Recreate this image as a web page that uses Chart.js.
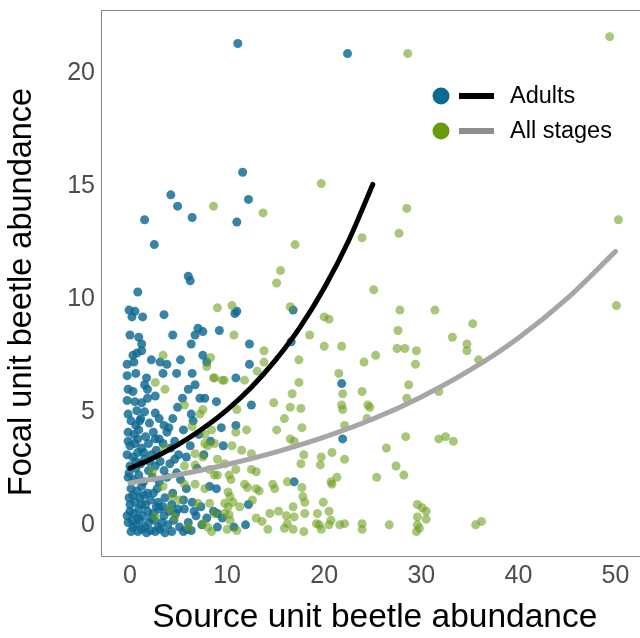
<!DOCTYPE html>
<html>
<head>
<meta charset="utf-8">
<script src="https://cdn.jsdelivr.net/npm/chart.js@4.4.1/dist/chart.umd.min.js"></script>
<style>
  html, body { margin: 0; padding: 0; background: #fff; overflow: hidden; }
  /* the panel runs past the right edge of the picture, so the canvas is a bit wider than the window */
  #wrap { width: 653px; height: 638px; position: relative; }
</style>
</head>
<body>
<div id="wrap"><canvas id="chart"></canvas></div>
<script>
// tick values
const xTicks = [0, 10, 20, 30, 40, 50];
const yTicks = [0, 5, 10, 15, 20];

// fitted curves
const adultCurveX = [0, 2.5, 5, 7.5, 10, 12.5, 15, 17.5, 20, 22.5, 25];
const adultCurveY = [2.40, 2.88, 3.46, 4.16, 4.99, 5.99, 7.20, 8.64, 10.38, 12.46, 14.96];
const allCurveX = [0, 5, 10, 15, 20, 25, 30, 35, 40, 45, 50];
const allCurveY = [1.75, 2.12, 2.57, 3.12, 3.78, 4.58, 5.56, 6.74, 8.17, 9.91, 12.0];

// adults points [source, focal]
const adults = [
	[11.1,21.2],[22.4,20.75],[11.6,15.5],[4.2,14.5],[4.9,14.0],[12.2,14.3],[6.4,13.5],[11.0,13.3],
	[1.5,13.4],[2.5,12.3],[6.0,10.9],[6.2,10.7],[0.8,10.2],
	[-0.1,9.4],[0.2,9.1],[0.5,9.35],[1.3,9.1],[3.5,9.2],[10.8,9.25],[11.0,9.35],
	[0,8.3],[0.9,8.2],[1.2,7.9],[4.4,8.3],[7.0,8.6],[7.5,8.45],[6.7,8.3],[9.2,8.5],[6.3,7.9],
	[12.3,7.9],[16.6,8.0],[16.8,9.4],
	[0.7,7.5],[0.3,7.4],[1.2,7.6],[0.4,7.1],[-0.3,7.0],[2.2,7.2],[3.1,7.1],[3.8,7.0],[5.2,7.2],
	[7.5,7.4],[7.9,7.1],[12.3,7.0],
	[-0.3,6.5],[0.6,6.6],[1.7,6.4],[3.4,6.6],[4.8,6.6],[6.4,6.6],[1.5,6.1],[10.9,6.4],[21.8,6.15],
	[-0.2,5.9],[0.3,5.8],[1.8,5.9],[6.0,5.9],[6.7,6.1],
	[-0.3,5.4],[0.5,5.35],[1.2,5.3],[1.8,5.5],[2.6,5.6],[5.4,5.5],[7.2,5.5],[7.7,5.5],[8.9,5.35],[12.5,5.2],
	[-0.2,4.8],[0.7,4.95],[1.5,4.9],[2.6,4.85],[4.9,5.1],[6.3,4.8],
	[0.1,4.5],[0.6,4.3],[1.1,4.6],[2.0,4.4],[3.5,4.3],[4.4,4.6],[6.5,4.5],[1.0,4.5],[3.0,4.6],[4.0,4.2],
	[-0.2,4.0],[0.4,3.9],[0.9,4.1],[1.6,3.8],[2.4,4.0],[3.0,3.7],[3.8,4.0],[4.6,3.6],[5.5,4.1],[7.1,3.9],
	[0.0,3.4],[0.5,3.5],[1.2,3.3],[1.9,3.5],[2.7,3.2],[3.4,3.5],[4.2,3.3],[5.0,3.0],[6.2,3.4],[8.3,3.6],[9.6,3.4],
	[-0.2,3.6],[0.8,3.7],[2.6,3.7],[1.4,3.1],[0.6,2.7],[2.0,2.7],
	[-0.3,3.0],[0.3,2.9],[0.8,3.1],[1.5,2.8],[2.2,3.0],[3.1,2.7],[4.6,2.8],[5.8,2.9],[7.6,3.0],
	[0.0,2.5],[0.6,2.4],[1.1,2.6],[1.9,2.3],[2.6,2.5],[3.5,2.3],[4.1,2.6],[6.9,2.4],[-0.1,2.2],
	[-0.2,2.0],[0.3,1.9],[0.9,2.1],[1.4,1.8],[2.3,2.0],[3.0,1.8],[5.2,1.9],[3.8,2.0],[4.8,2.2],
	[0.1,1.5],[0.7,1.4],[1.2,1.6],[1.8,1.3],[2.8,1.5],[4.4,1.3],[8.2,1.6],[5.8,1.5],
	[0.3,1.2],[1.4,1.2],[2.4,1.3],[0.0,0.8],[1.2,0.8],[2.7,0.7],[3.4,0.7],
	[-0.1,1.1],[0.5,0.9],[1.0,1.1],[1.6,0.8],[2.1,1.0],[2.9,0.9],[3.6,1.1],[4.3,0.8],[5.5,1.0],[6.4,0.9],[7.3,0.7],
	[0.0,0.5],[0.4,0.4],[0.9,0.6],[1.3,0.3],[1.8,0.5],[2.4,0.4],[3.0,0.6],[3.5,0.3],[4.0,0.5],[4.7,0.4],
	[5.6,0.6],[6.8,0.3],[8.6,0.5],[6.6,0.5],[4.9,0.6],[0.8,0.2],[2.2,0.2],[-0.3,0.3],[7.9,0.2],
	[-0.2,0.0],[0.2,0.1],[0.6,-0.1],[1.0,0.1],[1.5,-0.2],[1.9,0.0],[2.5,0.1],[2.9,-0.2],[3.3,0.0],
	[3.9,-0.1],[4.5,0.1],[5.1,-0.2],[6.0,0.0],[7.4,-0.1],[9.5,0.2],[10.7,-0.2],
	[0.3,-0.2],[1.2,-0.3],[2.1,-0.35],[3.1,-0.3],[5.9,-0.3],
	[0.1,-0.4],[0.8,-0.4],[1.7,-0.45],[2.6,-0.4],[3.6,-0.45],[4.3,-0.4],[5.5,-0.4],[6.3,-0.35],
	[9.4,4.2],[10.9,4.3],[8.9,1.5],[9.0,0.4],[9.0,-0.2],[12.2,0.8],[16.9,1.8],[11.9,-0.1],[21.9,3.7]
];

// all stages points [source, focal]
const allStages = [
	[49.4,21.5],[28.6,20.75],[19.7,15.0],[13.7,13.7],[8.6,14.0],[28.5,13.9],[17.0,12.3],[50.3,13.4],
	[23.9,12.6],[27.7,12.8],[15.5,11.15],[15.1,10.6],[50.1,9.6],[25.1,10.3],[27.8,9.4],[31.4,9.4],
	[27.6,8.5],[35.3,8.8],[21.8,7.8],[25.3,7.4],[33.2,8.2],[34.7,7.9],[34.7,7.6],[27.5,7.7],[28.3,7.7],
	[29.5,7.6],[20.5,9.0],[35.9,7.2],
	[9.0,9.5],[10.5,9.6],[16.5,9.55],[20.0,9.1],[10.7,8.3],[18.5,8.3],[20.0,7.8],[13.8,7.6],[13.8,7.1],
	[13.1,6.7],[17.4,7.2],[8.7,6.4],[9.7,6.3],[11.8,6.3],[17.4,6.2],[16.7,5.7],[14.8,5.3],[16.5,5.1],
	[17.6,5.05],[11.0,5.0],[15.9,4.6],
	[3.4,7.4],[2.6,6.2],[3.6,5.9],[7.9,6.9],[8.3,7.3],[8.6,6.4],[9.5,6.3],[5.6,5.2],[7.5,5.0],[7.2,4.8],
	[21.5,6.6],[24.1,7.1],[29.4,7.0],[28.7,6.1],[28.5,5.5],[23.9,5.8],[21.9,5.7],[21.8,5.2],[21.9,5.0],
	[24.5,5.2],[24.7,5.1],[24.4,4.6],[22.1,4.3],[31.8,5.8],[28.4,3.8],[31.8,3.7],[32.5,3.8],[33.3,3.6],
	[20.8,3.1],[22.1,2.8],[26.4,3.3],[27.4,2.5],[28.2,2.1],[25.4,2.0],[21.3,2.0],[20.8,1.7],
	[29.6,0.8],[30.1,0.65],[30.5,0.5],[29.6,0.25],[30.5,0.15],[29.6,-0.1],[29.8,-0.25],[29.5,-0.4],
	[20.5,0.5],[21.6,-0.1],[22.1,-0.05],[23.9,-0.05],[23.9,-0.3],[26.7,-0.1],[35.6,-0.1],[36.2,0.05],[20.5,-0.1],
	[10.9,4.0],[12.0,4.1],[17.7,4.2],[15.1,4.1],[16.5,3.7],[16.9,3.6],[10.5,3.4],[11.5,3.2],[12.5,3.05],
	[17.9,3.0],[19.7,2.9],[9.0,2.8],[9.75,2.6],[10.9,2.35],[12.5,2.35],[13.0,2.25],[10.2,2.1],[17.6,2.6],
	[19.6,2.55],[8.7,2.1],[11.8,1.7],[12.1,1.55],[13.0,1.5],[13.3,1.4],[14.7,1.7],[14.9,1.5],[16.2,1.8],
	[17.7,1.55],[20.7,1.8],[10.1,1.35],[10.3,1.15],[17.8,1.15],[18.0,0.9],[9.75,0.85],[10.1,0.7],[12.6,1.0],
	[16.8,0.7],[19.9,0.9],[9.75,0.4],[10.2,0.35],[14.4,0.4],[15.3,0.5],[16.1,0.3],[16.9,0.25],[18.0,0.4],
	[19.3,0.4],[13.0,0.2],[13.6,0.05],[16.2,-0.05],[19.2,-0.05],[19.5,-0.1],[10.0,-0.3],[11.0,-0.35],
	[14.2,-0.3],[15.9,-0.25],[16.8,-0.3],[17.9,-0.4],[19.7,-0.3],[20.7,0.1],
	[10.4,1.9],[10.6,0.9],[10.3,0.1],[11.3,0.7],
	[6.4,4.25],[7.7,3.9],[8.4,4.1],[8.0,3.4],[8.7,3.5],[7.7,3.5],[3.6,3.3],[6.7,3.05],[7.5,2.9],[5.6,2.5],
	[6.7,2.55],[8.2,2.35],[9.0,2.1],[2.3,2.25],[3.4,1.6],[5.6,1.7],[6.7,1.7],[7.7,1.5],[4.4,1.15],[5.1,1.0],
	[7.0,0.85],[8.2,0.85],[8.7,0.4],[4.1,0.6],[4.6,0.25],[7.5,-0.05],[8.0,-0.2],[8.4,-0.4],[6.0,-0.2],[2.6,0.25]
];

const toXY = arr => arr.map(p => ({x: p[0], y: p[1]}));
const zipXY = (xs, ys) => xs.map((x, i) => ({x: x, y: ys[i]}));

const fontFamily = '"Liberation Sans", Arial, sans-serif';

// box on left, top, bottom (right side runs off the picture)
const frame = {
	id: 'frame',
	beforeDatasetsDraw(chart) {
		const {ctx, chartArea: a} = chart;
		ctx.save();
		ctx.strokeStyle = '#858585';
		ctx.lineWidth = 1;
		ctx.beginPath();
		ctx.moveTo(a.right, Math.round(a.top) + 0.5);
		ctx.lineTo(Math.round(a.left) + 0.5, Math.round(a.top) + 0.5);
		ctx.lineTo(Math.round(a.left) + 0.5, Math.round(a.bottom) + 0.5);
		ctx.lineTo(a.right, Math.round(a.bottom) + 0.5);
		ctx.stroke();
		ctx.restore();
	}
};

// y title sits a bit below the panel centre in the original
const yTitle = {
	id: 'yTitle',
	afterDraw(chart) {
		const ctx = chart.ctx;
		ctx.save();
		ctx.translate(22, 292);
		ctx.rotate(-Math.PI / 2);
		ctx.font = '32.5px ' + fontFamily;
		ctx.fillStyle = '#000';
		ctx.textAlign = 'center';
		ctx.textBaseline = 'middle';
		ctx.fillText('Focal unit beetle abundance', 0, 0);
		ctx.restore();
	}
};

// legend drawn inside the plot
const keyBox = {
	id: 'keyBox',
	afterDatasetsDraw(chart) {
		const ctx = chart.ctx;
		const rows = [
			{dot: '#0b6a8e', line: '#000000', text: 'Adults', y: 96},
			{dot: '#689a0a', line: '#8e8e8e', text: 'All stages', y: 131}
		];
		ctx.save();
		ctx.font = '23.5px ' + fontFamily;
		ctx.textBaseline = 'middle';
		ctx.textAlign = 'left';
		rows.forEach(r => {
			ctx.fillStyle = r.dot;
			ctx.beginPath();
			ctx.arc(441, r.y, 8.5, 0, Math.PI * 2);
			ctx.fill();
			ctx.strokeStyle = r.line;
			ctx.lineWidth = 6;
			ctx.beginPath();
			ctx.moveTo(459, r.y);
			ctx.lineTo(494, r.y);
			ctx.stroke();
			ctx.fillStyle = '#000';
			ctx.fillText(r.text, 510, r.y + 1);
		});
		ctx.restore();
	}
};

const tickFont = {family: fontFamily, size: 25};

new Chart(document.getElementById('chart'), {
	type: 'scatter',
	data: {
		datasets: [
			{
				label: 'Adults fit',
				type: 'line',
				data: zipXY(adultCurveX, adultCurveY),
				borderColor: '#000000',
				borderWidth: 5,
				pointRadius: 0,
				fill: false,
				cubicInterpolationMode: 'monotone',
				borderCapStyle: 'round',
				order: 0,
			},
			{
				label: 'All stages fit',
				type: 'line',
				data: zipXY(allCurveX, allCurveY),
				borderColor: '#a6a6a6',
				borderWidth: 5,
				pointRadius: 0,
				fill: false,
				cubicInterpolationMode: 'monotone',
				borderCapStyle: 'round',
				order: 1,
			},
			{
				label: 'All stages',
				data: toXY(allStages),
				backgroundColor: 'rgba(106,158,26,0.58)',
				borderWidth: 0,
				pointRadius: 4.5,
				order: 2,
			},
			{
				label: 'Adults',
				data: toXY(adults),
				backgroundColor: 'rgba(14,105,145,0.82)',
				borderWidth: 0,
				pointRadius: 4.5,
				order: 3,
			},
		],
	},
	options: {
		responsive: true,
		maintainAspectRatio: false,
		animation: false,
		layout: {padding: {top: 10, right: 0, bottom: 0, left: 0}},
		plugins: {
			legend: {display: false},
			tooltip: {enabled: false},
		},
		scales: {
			x: {
				type: 'linear',
				min: -2.99,
				max: 53.4,
				grid: {display: false, drawTicks: false},
				border: {display: false},
				ticks: {
					stepSize: 10,
					includeBounds: false,
					padding: 5,
					color: '#4d4d4d',
					font: tickFont,
				},
				afterBuildTicks: s => { s.ticks = xTicks.map(v => ({value: v})); },
				afterFit: s => {
					s.height = 82;
					s.paddingLeft = 0;
					s.paddingRight = 0;
				},
				title: {
					display: true,
					text: 'Source unit beetle abundance',
					color: '#000',
					font: {family: fontFamily, size: 33.5},
					padding: {top: 0, bottom: 0},
				},
			},
			y: {
				type: 'linear',
				min: -1.48,
				max: 22.68,
				grid: {display: false, drawTicks: false},
				border: {display: false},
				ticks: {
					stepSize: 5,
					includeBounds: false,
					padding: 6,
					labelOffset: 2.5,
					color: '#4d4d4d',
					font: tickFont,
				},
				afterBuildTicks: s => { s.ticks = yTicks.map(v => ({value: v})); },
				afterFit: s => {
					s.width = 101;
					s.paddingTop = 0;
					s.paddingBottom = 0;
				},
			},
		},
	},
	plugins: [frame, keyBox, yTitle],
});
</script>
</body>
</html>
